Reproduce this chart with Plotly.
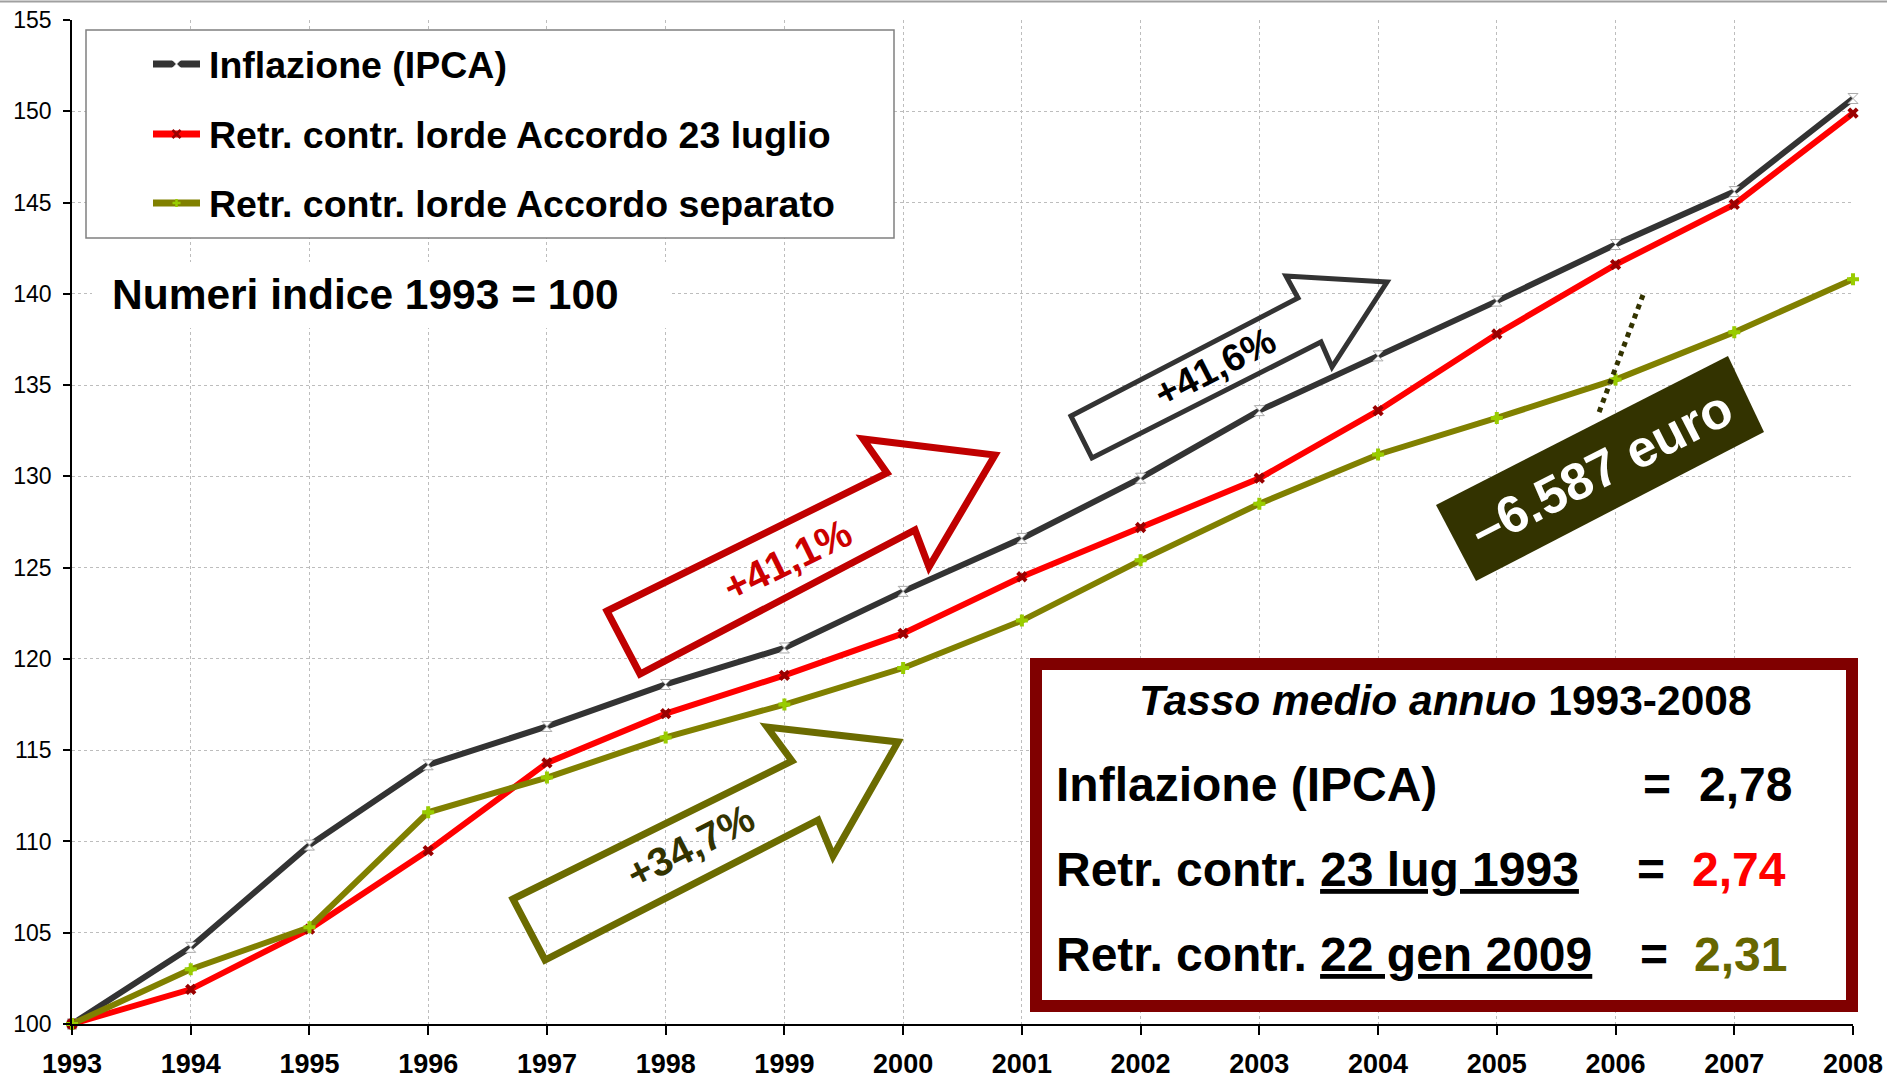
import plotly.graph_objects as go

# ---------------- data ----------------
years = list(range(1993, 2009))
ipca = [100, 104.2, 109.8, 114.2, 116.3, 118.6, 120.6, 123.7, 126.6, 129.9,
        133.6, 136.6, 139.6, 142.7, 145.6, 150.7]
accordo_23_luglio = [100, 101.9, 105.2, 109.5, 114.3, 117.0, 119.1, 121.4, 124.5,
                     127.2, 129.9, 133.6, 137.8, 141.6, 144.9, 149.9]
accordo_separato = [100, 103.0, 105.3, 111.6, 113.5, 115.7, 117.5, 119.5, 122.1,
                    125.4, 128.5, 131.2, 133.2, 135.3, 137.9, 140.8]
series_names = ["Inflazione (IPCA)", "Retr. contr. lorde Accordo 23 luglio",
                "Retr. contr. lorde Accordo separato"]
y_ticks = list(range(100, 160, 5))
x_ticklabels = [str(y) for y in years]
tasso_labels = ["Inflazione (IPCA)", "Retr. contr. <u>23 lug 1993</u>",
                "Retr. contr. <u>22 gen 2009</u>"]
tasso_values = ["2,78", "2,74", "2,31"]
arrow_labels = ["+41,1%", "+34,7%", "+41,6%"]
gap_label = "\u20136.587 euro"

FONT = "Liberation Sans, Arial, sans-serif"
W, H = 1887, 1086
PL, PR, PT, PB = 72, 1853, 20, 1024   # plot area in pixels


def px(X):
    return (X - PL) / (PR - PL)


def py(Y):
    return (PB - Y) / (PB - PT)


def path(points):
    return "M " + " L ".join(f"{px(a):.5f},{py(b):.5f}" for a, b in points) + " Z"


colors = ["#333333", "#FF0000", "#808000"]
markers = [dict(symbol="hourglass", size=10, color="white", line=dict(color="#aaaaaa", width=1)),
           dict(symbol="x", size=10, color="#990000", line=dict(width=0)),
           dict(symbol="cross", size=10, color="#99CC00", line=dict(width=0))]

fig = go.Figure()
for name, vals, col, mk in zip(series_names, [ipca, accordo_23_luglio, accordo_separato], colors, markers):
    fig.add_trace(go.Scatter(x=years, y=vals, name=name, mode="lines+markers",
                             line=dict(color=col, width=6), marker=mk,
                             cliponaxis=False, showlegend=False))

shapes = []
annotations = []

# top frame line
shapes.append(dict(type="line", xref="paper", yref="paper", x0=px(0), x1=px(W), y0=py(1.5), y1=py(1.5),
                   line=dict(color="#A0A0A0", width=2)))

# legend box
shapes.append(dict(type="rect", xref="paper", yref="paper", x0=px(86), x1=px(894), y0=py(238), y1=py(30),
                   line=dict(color="#808080", width=1.5), fillcolor="white", layer="above"))
for i, (name, col) in enumerate(zip(series_names, colors)):
    yl = [64, 134, 203][i]
    yt = [65, 135, 204][i]
    shapes.append(dict(type="line", xref="paper", yref="paper", x0=px(153), x1=px(200), y0=py(yl), y1=py(yl),
                       line=dict(color=col, width=7), layer="above"))
    annotations.append(dict(x=px(207), y=py(yt), xref="paper", yref="paper", text=f"<b>{name}</b>",
                            showarrow=False, xanchor="left", yanchor="middle",
                            font=dict(family=FONT, size=37.5, color="black")))
# legend marker glyphs
mx = 176.5
shapes.append(dict(type="path", xref="paper", yref="paper",
                   path=path([(mx - 4, 60), (mx + 4, 60), (mx - 4, 68), (mx + 4, 68)]),
                   line=dict(color="white", width=1), fillcolor="white", layer="above"))
for (a, b, c, d) in [(-4, -4, 4, 4), (-4, 4, 4, -4)]:
    shapes.append(dict(type="line", xref="paper", yref="paper", x0=px(mx + a), y0=py(134 + b),
                       x1=px(mx + c), y1=py(134 + d), line=dict(color="#990000", width=2.5), layer="above"))
for (a, b, c, d) in [(-4, 0, 4, 0), (0, -4, 0, 4)]:
    shapes.append(dict(type="line", xref="paper", yref="paper", x0=px(mx + a), y0=py(203 + b),
                       x1=px(mx + c), y1=py(203 + d), line=dict(color="#99CC00", width=2.5), layer="above"))

# "Numeri indice" label with white background
shapes.append(dict(type="rect", xref="paper", yref="paper", x0=px(92), x1=px(669), y0=py(328), y1=py(262),
                   line=dict(width=0), fillcolor="white", layer="above"))
annotations.append(dict(x=px(110), y=py(294), xref="paper", yref="paper", text="<b>Numeri indice 1993 = 100</b>",
                        showarrow=False, xanchor="left", yanchor="middle",
                        font=dict(family=FONT, size=42.5, color="black")))

# arrows (outline only)
red_arrow = [(607, 611), (887, 473), (863, 439), (995, 455), (929, 567), (915, 530), (640, 674)]
olive_arrow = [(513, 899), (792, 761), (767, 727), (898, 742), (833, 856), (818, 820), (545, 960)]
dark_arrow = [(1071, 416), (1298, 298), (1286, 276), (1387, 282), (1332, 367), (1321, 342), (1092, 458)]
for pts, col, w in [(red_arrow, "#C00000", 7), (olive_arrow, "#6B6B00", 7), (dark_arrow, "#333333", 5)]:
    shapes.append(dict(type="path", xref="paper", yref="paper", path=path(pts),
                       line=dict(color=col, width=w), fillcolor="rgba(0,0,0,0)", layer="above"))

for txt, (cx, cy), ang, col, sz in zip(arrow_labels,
                                       [(787, 560), (690, 846), (1215, 367)],
                                       [-26, -27, -27],
                                       ["#CC0000", "#333300", "#000000"],
                                       [40, 40, 38]):
    annotations.append(dict(x=px(cx), y=py(cy), xref="paper", yref="paper", text=f"<b>{txt}</b>",
                            showarrow=False, textangle=ang, xanchor="center", yanchor="middle",
                            font=dict(family=FONT, size=sz, color=col)))

# dotted connector
shapes.append(dict(type="line", xref="paper", yref="paper", x0=px(1643), y0=py(295), x1=px(1598), y1=py(415),
                   line=dict(color="#333300", width=5, dash="dot"), layer="above"))
# dark rotated box
shapes.append(dict(type="path", xref="paper", yref="paper",
                   path=path([(1436, 505), (1728, 356), (1764, 432), (1476, 581)]),
                   line=dict(width=0), fillcolor="#333300", layer="above"))
annotations.append(dict(x=px(1601), y=py(469), xref="paper", yref="paper", text=f"<b>{gap_label}</b>",
                        showarrow=False, textangle=-27, xanchor="center", yanchor="middle",
                        font=dict(family=FONT, size=52, color="white")))

# summary box
shapes.append(dict(type="rect", xref="paper", yref="paper", x0=px(1036), x1=px(1852), y0=py(1006), y1=py(664),
                   line=dict(color="#800000", width=12), fillcolor="white", layer="above"))
annotations.append(dict(x=px(1445), y=py(700), xref="paper", yref="paper",
                        text="<b><i>Tasso medio annuo</i> 1993-2008</b>",
                        showarrow=False, xanchor="center", yanchor="middle",
                        font=dict(family=FONT, size=42.5, color="black")))
val_colors = ["#000000", "#FF0000", "#666600"]
for i, (lab, val, vc) in enumerate(zip(tasso_labels, tasso_values, val_colors)):
    yy = [784, 869, 954][i]
    annotations.append(dict(x=px(1054), y=py(yy), xref="paper", yref="paper", text=f"<b>{lab}</b>",
                            showarrow=False, xanchor="left", yanchor="middle",
                            font=dict(family=FONT, size=48, color="black")))
    annotations.append(dict(x=px([1657, 1651, 1654][i]), y=py(yy), xref="paper", yref="paper", text="<b>=</b>",
                            showarrow=False, xanchor="center", yanchor="middle",
                            font=dict(family=FONT, size=48, color="black")))
    annotations.append(dict(x=px([1697, 1690, 1692][i]), y=py(yy), xref="paper", yref="paper", text=f"<b>{val}</b>",
                            showarrow=False, xanchor="left", yanchor="middle",
                            font=dict(family=FONT, size=48, color=vc)))

axis_common = dict(showgrid=True, gridcolor="#BDBDBD", gridwidth=1, griddash="dot",
                   showline=True, linecolor="black", linewidth=1.5, ticks="outside",
                   tickcolor="black", tickwidth=1.5, zeroline=False, automargin=False)

fig.update_layout(
    width=W, height=H, autosize=False,
    margin=dict(l=PL, r=W - PR, t=PT, b=H - PB, pad=0, autoexpand=False),
    paper_bgcolor="white", plot_bgcolor="white",
    font=dict(family=FONT, color="black"),
    xaxis=dict(range=[1993, 2008], tickmode="array", tickvals=years, ticktext=x_ticklabels,
               tickfont=dict(family=FONT, size=27, color="black", weight="bold"),
               ticklen=9, ticklabelstandoff=6, **axis_common),
    yaxis=dict(range=[100, 155], tickmode="array", tickvals=y_ticks,
               tickfont=dict(family=FONT, size=23, color="black"),
               ticklen=7, ticklabelstandoff=7, **axis_common),
    shapes=shapes, annotations=annotations,
)

fig.write_html("out.html", config={"displayModeBar": False},
               post_script="document.body.style.margin='0px';document.body.style.overflow='hidden';")
